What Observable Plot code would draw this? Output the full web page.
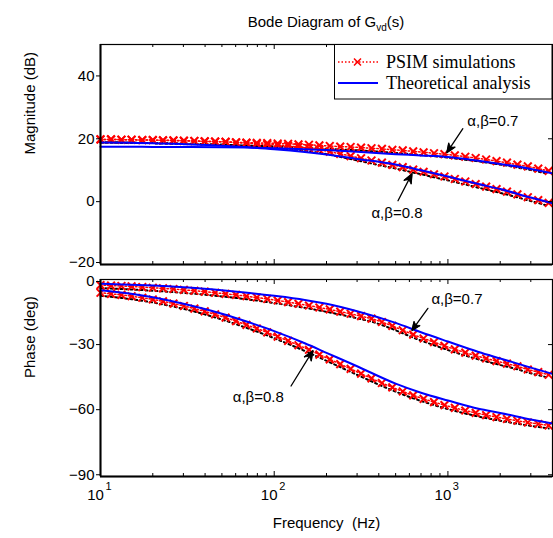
<!DOCTYPE html>
<html><head><meta charset="utf-8">
<script src="https://cdn.jsdelivr.net/npm/d3@7"></script>
<script src="https://cdn.jsdelivr.net/npm/@observablehq/plot@0.6"></script>
<style>
html,body{margin:0;padding:0;background:#fff}
#wrap{position:relative;width:553px;height:538px;font-family:"Liberation Sans",Arial,sans-serif;overflow:hidden;background:#fff}
#title{position:absolute;left:100px;width:452px;top:13px;text-align:center;font-size:15px;line-height:18px;color:#000}
#title sub{font-size:10px;vertical-align:-4px;line-height:0}
.pan{position:absolute;left:0}
#legend{position:absolute;left:0;top:0}
</style></head><body>
<div id="wrap">
<div id="magPanel" class="pan" style="top:0"></div>
<div id="phPanel" class="pan" style="top:270px"></div>
<div id="title">Bode Diagram of G<sub>vd</sub>(s)</div>
<svg id="legend" width="553" height="110"></svg>
</div>
<script>
// ---------- data ----------
const freqPSIM = [10, 11.5, 13.2, 15.1, 17.4, 20, 22.9, 26.3, 30.2, 34.7, 39.8, 45.7, 52.5, 60.3, 69.2, 79.4, 91.2, 104.7, 120.2, 138, 158.5, 182, 208.9, 239.9, 275.4, 316.2, 363.1, 416.9, 478.6, 549.5, 631, 724.4, 831.8, 955, 1096, 1259, 1445, 1660, 1905, 2188, 2512, 2884, 3311, 3802];
const magPSIM07 = [19.8,19.8,19.7,19.7,19.6,19.6,19.5,19.4,19.3,19.3,19.2,19.1,19.0,18.9,18.8,18.7,18.6,18.5,18.4,18.2,18.1,17.9,17.7,17.5,17.4,17.2,17.0,16.8,16.5,16.3,16.0,15.7,15.4,15.1,14.7,14.3,13.9,13.4,12.9,12.4,11.8,11.2,10.5,9.8];
const magPSIM08 = [19.8,19.8,19.7,19.7,19.6,19.6,19.5,19.5,19.4,19.3,19.2,19.1,19.0,18.8,18.6,18.4,18.2,18.0,17.7,17.4,17.0,16.5,15.9,15.2,14.5,13.8,13.1,12.4,11.7,11.0,10.2,9.5,8.7,8.0,7.2,6.4,5.6,4.8,4.0,3.2,2.3,1.4,0.5,-0.4];
const phPSIM07 = [-2.6,-2.8,-3.0,-3.2,-3.5,-3.8,-4.1,-4.4,-4.8,-5.2,-5.6,-6.1,-6.6,-7.1,-7.7,-8.3,-9.0,-9.7,-10.4,-11.2,-12.0,-12.9,-13.8,-14.8,-15.8,-16.9,-18.0,-19.6,-21.4,-23.4,-25.4,-27.2,-28.9,-30.6,-32.2,-33.7,-35.1,-36.4,-37.6,-38.8,-40.0,-41.5,-42.7,-43.9];
const phPSIM08 = [-6.1,-6.6,-7.1,-7.7,-8.4,-9.2,-10.1,-11.1,-12.2,-13.4,-14.7,-16.1,-17.6,-19.2,-20.9,-22.6,-24.4,-26.3,-28.3,-30.3,-32.4,-34.6,-36.8,-39.0,-41.2,-43.4,-45.6,-47.7,-49.7,-51.6,-53.4,-55.0,-56.5,-57.9,-59.2,-60.4,-61.5,-62.5,-63.4,-64.3,-65.1,-65.9,-66.6,-67.3];

const freqTheory = [10, 15, 20, 30, 50, 70, 100, 150, 200, 300, 500, 700, 1000, 1500, 2000, 3000, 4000];
const magTheory07 = [17.5, 17.5, 17.4, 17.4, 17.3, 17.2, 17.0, 16.7, 16.4, 15.9, 15.1, 14.7, 14.2, 13.0, 12.0, 10.4, 9.0];
const magTheory08 = [18.8, 18.7, 18.6, 18.3, 17.8, 17.3, 16.7, 15.8, 15.0, 13.6, 11.8, 10.0, 8.0, 5.6, 4.0, 1.3, -0.5];
const phTheory07 = [-2.0, -2.4, -2.8, -3.6, -5.0, -6.1, -7.5, -9.4, -11.2, -14.6, -20.0, -24.3, -28.6, -33.4, -36.4, -40.6, -43.5];
const phTheory08 = [-5.0, -6.6, -8.2, -11.2, -15.8, -19.5, -23.8, -29.4, -33.8, -40.0, -48.0, -52.2, -55.8, -59.6, -61.5, -64.5, -66.4];

const magTicks = [-20, 0, 20, 40];
const phTicks = [-90, -60, -30, 0];
const xMajor = [10, 100, 1000];
const xExp = ["1", "2", "3"];
const xMinor = [20,30,40,50,60,70,80,90,200,300,400,500,600,700,800,900,2000,3000];

const magLabels = [{text: "α,β=0.7", f: 1815, v: 25.7}, {text: "α,β=0.8", f: 509, v: -3.8}];
const magArrows = [{f1: 1219, v1: 23.2, f2: 986, v2: 15.6}, {f1: 516, v1: 0.3, f2: 621, v2: 8.9}];
const phLabels = [{text: "α,β=0.7", f: 1127, v: -9.1}, {text: "α,β=0.8", f: 81, v: -54.2}];
const phArrows = [{f1: 767, v1: -13.3, f2: 621, v2: -23.5}, {f1: 125, v1: -49.1, f2: 167, v2: -32.8}];

const legendItems = ["PSIM simulations", "Theoretical analysis"];

// ---------- helpers ----------
const zip = (xs, ys) => xs.map((x, i) => ({f: x, v: ys[i]}));
const FONT = "Liberation Sans, Arial, sans-serif";
const RED = "#ff0000", BLUE = "#0000ff";
const W = 553, ML = 100, MR = 1;
const FW = W - ML - MR;

function seriesMarks(psimList, theoryList) {
  const marks = [];
  for (const s of psimList) {
    marks.push(Plot.line(s, {x: "f", y: "v", stroke: "black", strokeWidth: 2, strokeDasharray: "2,3", dy: 3}));
    marks.push(Plot.line(s, {x: "f", y: "v", stroke: RED, strokeWidth: 1.5, strokeDasharray: "1.5,2"}));
    marks.push(Plot.dot(s, {x: "f", y: "v", symbol: "times", r: 3.6, stroke: RED, strokeWidth: 2}));
  }
  for (const s of theoryList) {
    marks.push(Plot.line(s, {x: "f", y: "v", stroke: BLUE, strokeWidth: 2, curve: "monotone-x"}));
  }
  return marks;
}

function frameMarks(yTicks, yMin, FH) {
  const lo = yTicks[0], hi = yTicks[yTicks.length - 1];
  return [
    Plot.frame({stroke: "black", strokeWidth: 1.2}),
    Plot.ruleX([10], {stroke: "black", strokeWidth: 2}),
    Plot.ruleY([yMin], {stroke: "black", strokeWidth: 2}),
    Plot.axisY(yTicks.filter(t => t !== lo && t !== hi), {anchor: "left", tickSize: 4, tickPadding: 2, fontSize: 15, label: null}),
    Plot.axisY([lo], {anchor: "left", tickSize: 4, tickPadding: 2, fontSize: 15, label: null, textAnchor: "end", dy: lo === -20 ? -2 : 0}),
    Plot.axisY([hi], {anchor: "left", tickSize: 4, tickPadding: 2, fontSize: 15, label: null, dy: hi === 0 ? 2 : 0}),
    Plot.tickY(yTicks, {y: d => d, insetLeft: FW - 4, stroke: "black"}),
    Plot.tickX(xMinor, {x: d => d, insetTop: FH - 3, stroke: "black"}),
    Plot.tickX(xMinor, {x: d => d, insetBottom: FH - 3, stroke: "black"}),
    Plot.tickX(xMajor.slice(1), {x: d => d, insetTop: FH - 5, stroke: "black"}),
    Plot.tickX(xMajor.slice(1), {x: d => d, insetBottom: FH - 5, stroke: "black"})
  ];
}

function annoMarks(labels, arrows) {
  return [
    Plot.arrow(arrows, {x1: "f1", y1: "v1", x2: "f2", y2: "v2", stroke: "black", strokeWidth: 1.3, headLength: 12, headAngle: 45}),
    Plot.text(labels, {x: "f", y: "v", text: "text", fontSize: 15, fill: "black"})
  ];
}

// fill the arrow heads (MATLAB-style solid arrowheads)
function fillArrowHeads(svg) {
  d3.select(svg).selectAll('g[aria-label="arrow"] path').each(function () {
    const d = this.getAttribute("d") || "";
    const n = (d.match(/-?\d*\.?\d+(?:e-?\d+)?/g) || []).map(Number);
    if (n.length !== 10) return;
    const [x1, y1, x2, y2, ax, ay, , , bx, by] = n;
    const L = Math.hypot(x2 - x1, y2 - y1) || 1;
    const ux = (x2 - x1) / L, uy = (y2 - y1) / L;
    const nx = x2 - ux * 7, ny = y2 - uy * 7;
    d3.select(this.parentNode).append("path")
      .attr("d", `M${ax},${ay}L${x2},${y2}L${bx},${by}L${nx},${ny}Z`)
      .attr("fill", "black").attr("stroke", "black").attr("stroke-width", 0.8);
  });
}

// ---------- magnitude ----------
const magFH = 220;
const magPlot = Plot.plot({
  width: W, height: 270,
  marginLeft: ML, marginRight: MR, marginTop: 44, marginBottom: 6,
  x: {type: "log", domain: [10, 4000], axis: null},
  y: {domain: [-20, 50]},
  style: {fontFamily: FONT, fontSize: "15px", background: "transparent", color: "black", overflow: "visible"},
  marks: [
    ...seriesMarks([zip(freqPSIM, magPSIM07), zip(freqPSIM, magPSIM08)], [zip(freqTheory, magTheory07), zip(freqTheory, magTheory08)]),
    ...annoMarks(magLabels, magArrows),
    ...frameMarks(magTicks, -20, magFH),
    Plot.text(["Magnitude (dB)"], {text: d => d, frameAnchor: "left", dx: -70, rotate: -90, fontSize: 15})
  ]
});
fillArrowHeads(magPlot);
document.getElementById("magPanel").appendChild(magPlot);

// ---------- phase ----------
const phFH = 197;
const phPlot = Plot.plot({
  width: W, height: 268,
  marginLeft: ML, marginRight: MR, marginTop: 9, marginBottom: 62,
  x: {type: "log", domain: [10, 4000], axis: null},
  y: {domain: [-90.8, 0]},
  style: {fontFamily: FONT, fontSize: "15px", background: "transparent", color: "black", overflow: "visible"},
  marks: [
    ...seriesMarks([zip(freqPSIM, phPSIM07), zip(freqPSIM, phPSIM08)], [zip(freqTheory, phTheory07), zip(freqTheory, phTheory08)]),
    ...annoMarks(phLabels, phArrows),
    ...frameMarks(phTicks, -90.8, phFH),
    Plot.text(xMajor, {x: d => d, text: d => "10", frameAnchor: "bottom", dx: -5, dy: 23, fontSize: 15}),
    Plot.text(xMajor, {x: d => d, text: (d, i) => xExp[i], frameAnchor: "bottom", dx: 8, dy: 13, fontSize: 11}),
    Plot.text(["Frequency  (Hz)"], {text: d => d, frameAnchor: "bottom", dy: 51, fontSize: 15}),
    Plot.text(["Phase (deg)"], {text: d => d, frameAnchor: "left", dx: -70, rotate: -90, fontSize: 15})
  ]
});
fillArrowHeads(phPlot);
document.getElementById("phPanel").appendChild(phPlot);

// ---------- legend (overlay) ----------
const lg = d3.select("#legend");
lg.append("rect").attr("x", 334.5).attr("y", 44.5).attr("width", 217.5).attr("height", 54.5)
  .attr("fill", "white").attr("stroke", "black").attr("stroke-width", 1);
const rowY = [62, 83];
legendItems.forEach((t, i) => {
  const y = rowY[i];
  if (i === 0) {
    lg.append("line").attr("x1", 338).attr("x2", 378).attr("y1", y).attr("y2", y)
      .attr("stroke", RED).attr("stroke-width", 1.5).attr("stroke-dasharray", "1.5,2");
    lg.append("path").attr("d", `M${354},${y-3.5}L${361},${y+3.5}M${354},${y+3.5}L${361},${y-3.5}`)
      .attr("stroke", RED).attr("stroke-width", 1.5);
  } else {
    lg.append("line").attr("x1", 338).attr("x2", 378).attr("y1", y).attr("y2", y)
      .attr("stroke", BLUE).attr("stroke-width", 2);
  }
  lg.append("text").attr("x", 386).attr("y", y).attr("dy", "0.35em")
    .attr("font-family", "Liberation Serif, Times New Roman, serif").attr("font-size", 18)
    .text(t);
});
</script>
</body></html>
